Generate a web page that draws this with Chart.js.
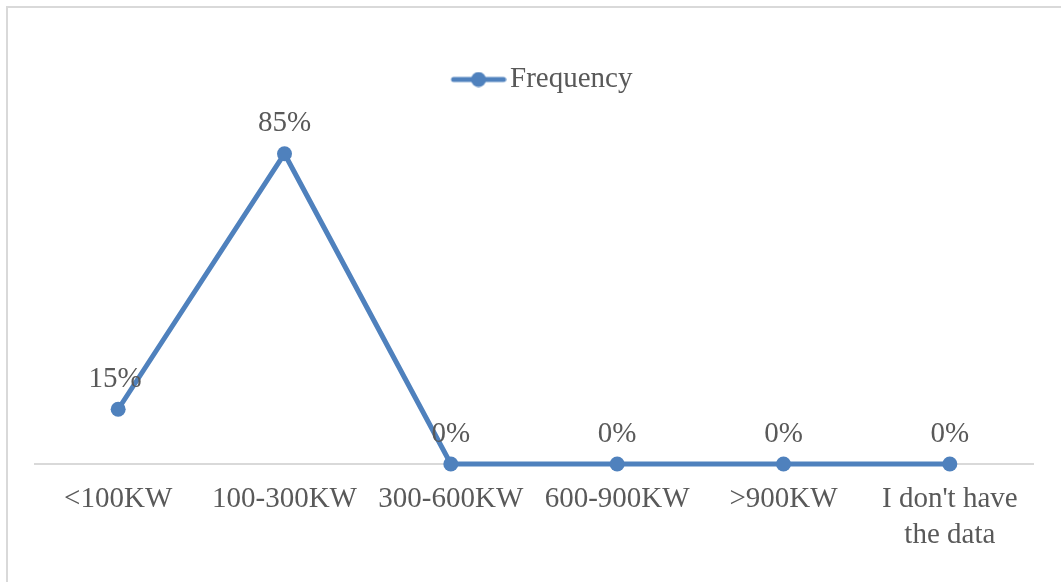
<!DOCTYPE html>
<html>
<head>
<meta charset="utf-8">
<script src="https://cdn.jsdelivr.net/npm/chart.js@4/dist/chart.umd.min.js"></script>
<style>
  html, body { margin: 0; padding: 0; background: #fff; overflow: hidden; }
  #frame { position: absolute; left: 6px; top: 6px; width: 1200px; height: 700px;
           border: 2px solid #d9d9d9; box-sizing: border-box; }
  #c { position: absolute; left: 0; top: 0; }
</style>
</head>
<body>
<div id="frame"></div>
<canvas id="c" width="1061" height="582"></canvas>
<script>
// Installed capacity ranges and the share of respondents in each
const categories = ['<100KW', '100-300KW', '300-600KW', '600-900KW', '>900KW', ["I don't have", 'the data']];
const frequency = [15, 85, 0, 0, 0, 0];
const seriesName = 'Frequency';

const LINE_COLOR = '#4f81bd';
const TEXT_COLOR = '#595959';
const FONT_FAMILY = '"Liberation Serif", "Times New Roman", serif';
const FONT_SIZE = 29;

// Legend swatch: a short line with a round marker in the middle,
// drawn in the right part of a wider transparent canvas
function legendSwatch() {
  const shift = 26;
  const cv = document.createElement('canvas');
  cv.width = 56 + shift; cv.height = 16;
  const g = cv.getContext('2d');
  g.strokeStyle = LINE_COLOR;
  g.lineWidth = 5;
  g.lineCap = 'round';
  g.beginPath(); g.moveTo(shift + 3, 8); g.lineTo(shift + 53, 8); g.stroke();
  g.fillStyle = LINE_COLOR;
  g.beginPath(); g.arc(shift + 28, 8, 7.5, 0, Math.PI * 2); g.fill();
  return cv;
}

// Percentage labels drawn above every point
const pointLabels = {
  id: 'pointLabels',
  afterDatasetsDraw(chart) {
    const ctx = chart.ctx;
    const meta = chart.getDatasetMeta(0);
    ctx.save();
    ctx.font = FONT_SIZE + 'px ' + FONT_FAMILY;
    ctx.fillStyle = TEXT_COLOR;
    ctx.textAlign = 'center';
    ctx.textBaseline = 'middle';
    meta.data.forEach((pt, i) => {
      ctx.fillText(frequency[i] + '%', pt.x - (i === 0 ? 3 : 0), pt.y - 30);
    });
    ctx.restore();
  }
};

// Tighten the gap between the legend and the plot area
const legendGap = {
  id: 'legendGap',
  beforeLayout(chart) {
    const lg = chart.legend;
    if (lg && !lg._gapPatched) {
      const fit = lg.fit;
      lg.fit = function () { fit.call(this); this.height -= 5; };
      lg._gapPatched = true;
    }
  }
};

const swatch = legendSwatch();

new Chart(document.getElementById('c'), {
  type: 'line',
  data: {
    labels: categories,
    datasets: [{
      label: seriesName,
      data: frequency,
      borderColor: LINE_COLOR,
      backgroundColor: LINE_COLOR,
      borderWidth: 5,
      pointRadius: 7.5,
      pointHoverRadius: 7.5,
      pointBackgroundColor: LINE_COLOR,
      pointBorderWidth: 0,
      tension: 0,
      fill: false,
      clip: false
    }]
  },
  options: {
    responsive: false,
    animation: false,
    events: [],
    layout: { padding: { left: 35, right: 28, top: 60, bottom: 0 } },
    plugins: {
      tooltip: { enabled: false },
      legend: {
        display: true,
        position: 'top',
        labels: {
          usePointStyle: true,
          pointStyle: swatch,
          pointStyleWidth: 60,
          color: TEXT_COLOR,
          font: { family: FONT_FAMILY, size: FONT_SIZE },
          padding: 5,
          generateLabels(chart) {
            return [{
              text: seriesName,
              pointStyle: swatch,
              fillStyle: LINE_COLOR,
              strokeStyle: LINE_COLOR,
              lineWidth: 0,
              hidden: false,
              datasetIndex: 0,
              fontColor: TEXT_COLOR
            }];
          }
        }
      }
    },
    scales: {
      x: {
        offset: true,
        grid: { display: false, drawTicks: false },
        border: { display: true, color: '#d9d9d9', width: 2 },
        ticks: {
          color: TEXT_COLOR,
          font: { family: FONT_FAMILY, size: FONT_SIZE, lineHeight: 1.24 },
          padding: 17,
          maxRotation: 0,
          autoSkip: false
        },
        afterFit(scale) { scale.height = 118; }
      },
      y: {
        display: false,
        min: 0,
        max: 100
      }
    }
  },
  plugins: [pointLabels, legendGap]
});
</script>
</body>
</html>
